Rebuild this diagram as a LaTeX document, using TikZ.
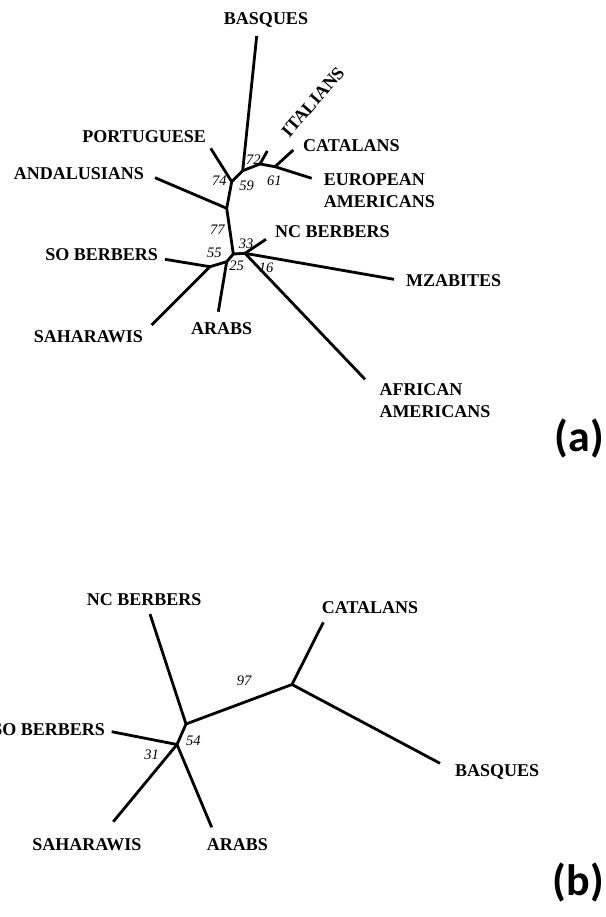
\documentclass[tikz,border=0pt]{standalone}
\usepackage{fontspec}
\setmainfont{Liberation Serif}
\newfontfamily\panelfont{Carlito}
\begin{document}
\begin{tikzpicture}[x=1pt,y=-1pt,
  branch/.style={line width=2.8pt},
  taxon/.style={inner sep=0pt,font=\bfseries\fontsize{18}{21.7}\selectfont,align=left},
  boot/.style={inner sep=0pt,font=\itshape\fontsize{14.5}{14.5}\selectfont},
  panel/.style={inner sep=0pt,font=\panelfont\bfseries\fontsize{44}{44}\selectfont}]
\useasboundingbox (0,0) rectangle (605,917);
% ---------- tree (a) ----------
\coordinate (aA) at (242.7,170.7);
\coordinate (aBq) at (256.7,36);
\coordinate (aJ) at (260,164);
\coordinate (aIt) at (267.3,151);
\coordinate (aK) at (275,166.7);
\coordinate (aCa) at (293.3,150);
\coordinate (aEu) at (311.7,178.3);
\coordinate (aC) at (231.7,181.7);
\coordinate (aPo) at (210.7,148.3);
\coordinate (aD) at (226.7,208.3);
\coordinate (aAn) at (155,177.7);
\coordinate (aE) at (233.3,254);
\coordinate (aF) at (245,253.3);
\coordinate (aNC) at (266,239.3);
\coordinate (aMz) at (394,279.3);
\coordinate (aAf) at (365,379.3);
\coordinate (aH) at (226.7,261.7);
\coordinate (aAr) at (218.3,311.7);
\coordinate (aG) at (210,266.7);
\coordinate (aSO) at (165,259.3);
\coordinate (aSa) at (151.7,325);
\draw[branch] (aBq) -- (aA);
\draw[branch] (aA) -- (aJ) -- (aK) -- (aEu);
\draw[branch] (aJ) -- (aIt);
\draw[branch] (aK) -- (aCa);
\draw[branch] (aA) -- (aC) -- (aD) -- (aE) -- (aF) -- (aMz);
\draw[branch] (aC) -- (aPo);
\draw[branch] (aD) -- (aAn);
\draw[branch] (aF) -- (aNC);
\draw[branch] (aF) -- (aAf);
\draw[branch] (aE) -- (aH) -- (aG) -- (aSO);
\draw[branch] (aH) -- (aAr);
\draw[branch] (aG) -- (aSa);
\node[taxon] (tBq) at (266,20) {BASQUES};
\node[taxon,rotate=49] (tIt) at (313,102) {ITALIANS};
\node[taxon,anchor=east] (tPo) at (206,137) {PORTUGUESE};
\node[taxon,anchor=west] (tCa) at (303,146) {CATALANS};
\node[taxon,anchor=east] (tAn) at (144,174) {ANDALUSIANS};
\node[taxon,anchor=west] (tEu) at (323.6,190.9) {EUROPEAN\\AMERICANS};
\node[taxon,anchor=west] (tNC) at (275,232) {NC BERBERS};
\node[taxon,anchor=east] (tSO) at (158,255) {SO BERBERS};
\node[taxon,anchor=west] (tMz) at (406,281) {MZABITES};
\node[taxon,anchor=east] (tSa) at (143,337) {SAHARAWIS};
\node[taxon] (tAr) at (221.7,328.3) {ARABS};
\node[taxon,anchor=west] (tAf) at (379.3,400.9) {AFRICAN\\AMERICANS};
\node[boot] (n72) at (253.3,159.3) {72};
\node[boot] (n59) at (246.7,186) {59};
\node[boot] (n74) at (219.3,181) {74};
\node[boot] (n61) at (274.3,181) {61};
\node[boot] (n77) at (217.3,229.3) {77};
\node[boot] (n33) at (246,244) {33};
\node[boot] (n55) at (214.3,253.3) {55};
\node[boot] (n25) at (236.7,265.7) {25};
\node[boot] (n16) at (266,267.7) {16};
\node[panel,anchor=east] (pa) at (604,438) {(a)};
% ---------- tree (b) ----------
\coordinate (bP) at (186,724);
\coordinate (bQ) at (177,744.5);
\coordinate (bR) at (292,684.5);
\coordinate (bNC) at (150,614);
\coordinate (bCa) at (323.3,622.3);
\coordinate (bBq) at (440,763.3);
\coordinate (bSO) at (111.7,731.7);
\coordinate (bSa) at (113.3,821.7);
\coordinate (bAr) at (211.7,827.3);
\draw[branch] (bNC) -- (bP) -- (bR) -- (bCa);
\draw[branch] (bR) -- (bBq);
\draw[branch] (bP) -- (bQ) -- (bSO);
\draw[branch] (bQ) -- (bSa);
\draw[branch] (bQ) -- (bAr);
\node[taxon,anchor=east] (uNC) at (201.7,600) {NC BERBERS};
\node[taxon,anchor=west] (uCa) at (321.7,608) {CATALANS};
\node[taxon,anchor=west] (uBq) at (455,772) {BASQUES};
\node[taxon,anchor=east] (uSO) at (105,730) {SO BERBERS};
\node[taxon,anchor=east] (uSa) at (141.7,845) {SAHARAWIS};
\node[taxon,anchor=west] (uAr) at (206.7,845) {ARABS};
\node[boot] (n97) at (244,680.7) {97};
\node[boot] (n54) at (193.3,740.7) {54};
\node[boot] (n31) at (151.7,755) {31};
\node[panel,anchor=east] (pb) at (604,882) {(b)};
\end{tikzpicture}
\end{document}
